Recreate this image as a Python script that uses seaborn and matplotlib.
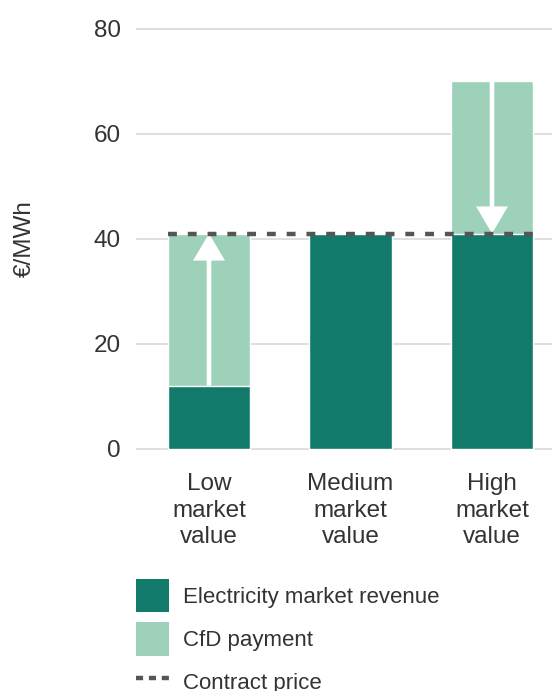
import matplotlib
matplotlib.use("Agg")
import matplotlib.pyplot as plt
import seaborn as sns
import pandas as pd
from matplotlib.patches import Patch
from matplotlib.lines import Line2D

# Scenario data (€/MWh)
categories = ["Low\nmarket\nvalue", "Medium\nmarket\nvalue", "High\nmarket\nvalue"]
market_value = [12, 41, 70]
contract_price = 41
y_ticks = [0, 20, 40, 60, 80]
legend_labels = ["Electricity market revenue", "CfD payment", "Contract price"]

DARK = "#117A6A"
LIGHT = "#9DD1B9"
DASH = "#555555"
TEXT = "#333333"
GRID = "#d9d9d9"

# Revenue from the market is capped at the contract price; the CfD payment
# fills the gap between market value and contract price.
revenue = [min(v, contract_price) for v in market_value]
upper = [max(v, contract_price) for v in market_value]
df = pd.DataFrame({"scenario": categories, "revenue": revenue, "upper": upper,
                   "market": market_value})

sns.set_theme(style="white")
plt.rcParams["font.family"] = ["Liberation Sans", "DejaVu Sans"]

fig = plt.figure(figsize=(5.52, 6.91), dpi=100)
W, H = 552, 691
ax_left, ax_right = 136, 552
ax_top, ax_bottom = 23.75, 453.75
ax = fig.add_axes([ax_left / W, 1 - ax_bottom / H,
                   (ax_right - ax_left) / W, (ax_bottom - ax_top) / H])

bar_w = 0.58
sns.barplot(data=df, x="scenario", y="upper", color=LIGHT, saturation=1,
            width=bar_w, errorbar=None, ax=ax, zorder=2)
sns.barplot(data=df, x="scenario", y="revenue", color=DARK, saturation=1,
            width=bar_w, errorbar=None, ax=ax, zorder=3)

# Contract price reference line across the bars
ax.hlines(contract_price, -bar_w / 2, len(categories) - 1 + bar_w / 2,
          colors=DASH, linestyles=(0, (2.0, 2.45)), linewidth=3.2, zorder=5)

# Arrows showing the direction of the CfD payment
for i, v in enumerate(market_value):
    if v != contract_price:
        ax.annotate("", xy=(i, contract_price), xytext=(i, v),
                    arrowprops=dict(arrowstyle="simple,head_length=1.95,head_width=2.3,tail_width=0.33",
                                    mutation_scale=10, color="white", lw=0,
                                    shrinkA=0, shrinkB=0),
                    zorder=4)

ax.set_ylim(-1, 81)
ax.set_xlim(-0.516, 2.424)
ax.set_yticks(y_ticks)
ax.yaxis.grid(True, color=GRID, linewidth=1.2, zorder=0)
ax.xaxis.grid(False)
ax.set_axisbelow(True)
for s in ax.spines.values():
    s.set_visible(False)

ax.tick_params(axis="y", length=0, pad=11, labelsize=17.5, labelcolor=TEXT)
ax.tick_params(axis="x", length=0, pad=14, labelsize=17.5, labelcolor=TEXT)
for lab in ax.get_xticklabels():
    lab.set_linespacing(1.26)
ax.set_xlabel("")
ax.set_ylabel("€/MWh", fontsize=17.5, color=TEXT)
ax.yaxis.label.set_verticalalignment("center")
ax.yaxis.set_label_coords((25 - ax_left) / (ax_right - ax_left), 0.5)

handles = [Patch(facecolor=DARK, edgecolor="none"),
           Patch(facecolor=LIGHT, edgecolor="none"),
           Line2D([0], [0], color=DASH, linewidth=3.2, linestyle=(0, (1.6, 1.3)))]
fig.legend(handles, legend_labels, loc="upper left",
           bbox_to_anchor=(136 / W, 1 - 579 / H), frameon=False,
           fontsize=16, labelcolor=TEXT, borderpad=0, borderaxespad=0,
           handlelength=1.49, handleheight=1.93, handletextpad=0.63,
           labelspacing=0.45)

fig.savefig("out.png", dpi=100)
